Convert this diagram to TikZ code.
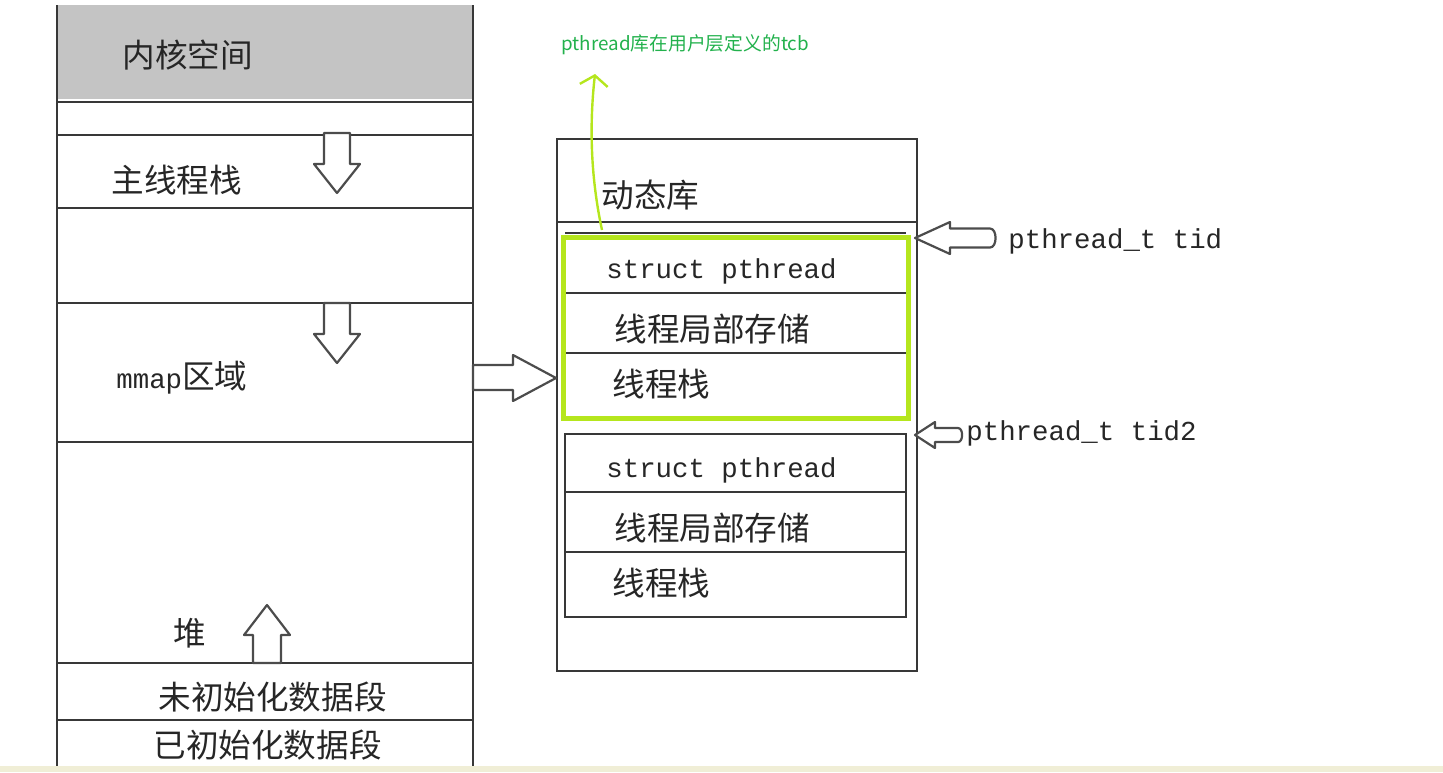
\documentclass[tikz,border=0pt]{standalone}
\usepackage{fontspec}
\setmainfont{Noto Sans CJK SC}
\setmonofont{Liberation Mono}
\usetikzlibrary{arrows.meta}
\definecolor{lime}{HTML}{B5E61D}
\definecolor{tcbgreen}{HTML}{22B14C}
\definecolor{bandyellow}{RGB}{240,238,214}
\newcommand\codefont{\ttfamily\fontsize{13.7}{14}\selectfont}
\begin{document}
\begin{tikzpicture}[x=0.5pt,y=-0.5pt,
        rule/.style={draw=black!78,line width=1.2pt},
        blockarrow/.style={draw=black!70,line width=1.1pt,fill=white,line join=round},
        lbl/.style={anchor=west,inner sep=0pt,text=black!85,font=\fontsize{16.3}{17}\selectfont},
        code/.style={lbl,font=\codefont}]
    \useasboundingbox (0,0) rectangle (1443,772);

    \fill[black!23] (57,5) rectangle (473,99);
    \draw[rule] (57,5) -- (57,766) (473,5) -- (473,766);
    \foreach \y in {102,135,208,303,442,663,720}
        \draw[rule] (57,\y) -- (473,\y);

    \draw[rule] (557,139) rectangle (917,671);
    \draw[rule] (557,222) -- (917,222);
    \draw[rule] (565,233) -- (906,233);
    \draw[rule] (565,434) rectangle (906,617);
    \foreach \y in {293,353,492,552}
        \draw[rule] (565,\y) -- (906,\y);
    \draw[lime,line width=2.5pt] (563,237) rectangle (908,418);

    \foreach \x/\t/\b in {337/133/193, 337/303/363}
        \draw[blockarrow] (\x-13,\t) -- (\x+13,\t) -- (\x+13,\t+31) -- (\x+23,\t+31)
            -- (\x,\b) -- (\x-23,\t+31) -- (\x-13,\t+31) -- cycle;
    \draw[blockarrow] (253,663) -- (281,663) -- (281,635) -- (290,635) -- (267,605)
        -- (244,635) -- (253,635) -- cycle;
    \draw[blockarrow] (473,365) -- (513,365) -- (513,355) -- (556,378) -- (513,401)
        -- (513,390) -- (473,390) -- cycle;
    \foreach \y/\b/\e/\h/\s in {238/950/990/16/9.5, 435/935/958/13/7}
        \draw[blockarrow] (915,\y) -- (\b,\y-\h) -- (\b,\y-\s) -- (\e,\y-\s)
            to[out=0,in=0] (\e,\y+\s) -- (\b,\y+\s) -- (\b,\y+\h) -- cycle;

    \node[lbl] (kernel) at (122,55) {内核空间};
    \node[lbl] (mainstack) at (111,180) {主线程栈};
    \node[lbl] (mmap) at (116,378) {{\codefont mmap}区域};
    \node[lbl] (heap) at (173,633) {堆};
    \node[lbl] (bss) at (158,697) {未初始化数据段};
    \node[lbl] (data) at (153,745) {已初始化数据段};
    \node[lbl] (dynlib) at (601,195) {动态库};
    \foreach \n/\y in {1/0, 2/199}
        {
            \node[code] (pth\n) at (606,271+\y) {struct pthread};
            \node[lbl] (tls\n) at (614,329+\y) {线程局部存储};
            \node[lbl] (tstack\n) at (612,384+\y) {线程栈};
        }
    \node[code] (tid1) at (1008,241) {pthread\_t tid};
    \node[code] (tid2) at (966,433) {pthread\_t tid2};
    \node[anchor=west,inner sep=0pt,text=tcbgreen,font=\fontsize{9.4}{10}\selectfont]
        (tcbnote) at (561,45) {pthread库在用户层定义的tcb};

    \coordinate (tcbfoot) at (602,230);
    \coordinate (tcbtip) at (595,74);
    \draw[lime,line width=1.2pt,-{Straight Barb[length=5pt,width=14pt]}]
        (tcbfoot) .. controls (588,165) and (591,110) .. (tcbtip);

    \fill[bandyellow] (0,766) rectangle (1443,772);
\end{tikzpicture}
\end{document}
